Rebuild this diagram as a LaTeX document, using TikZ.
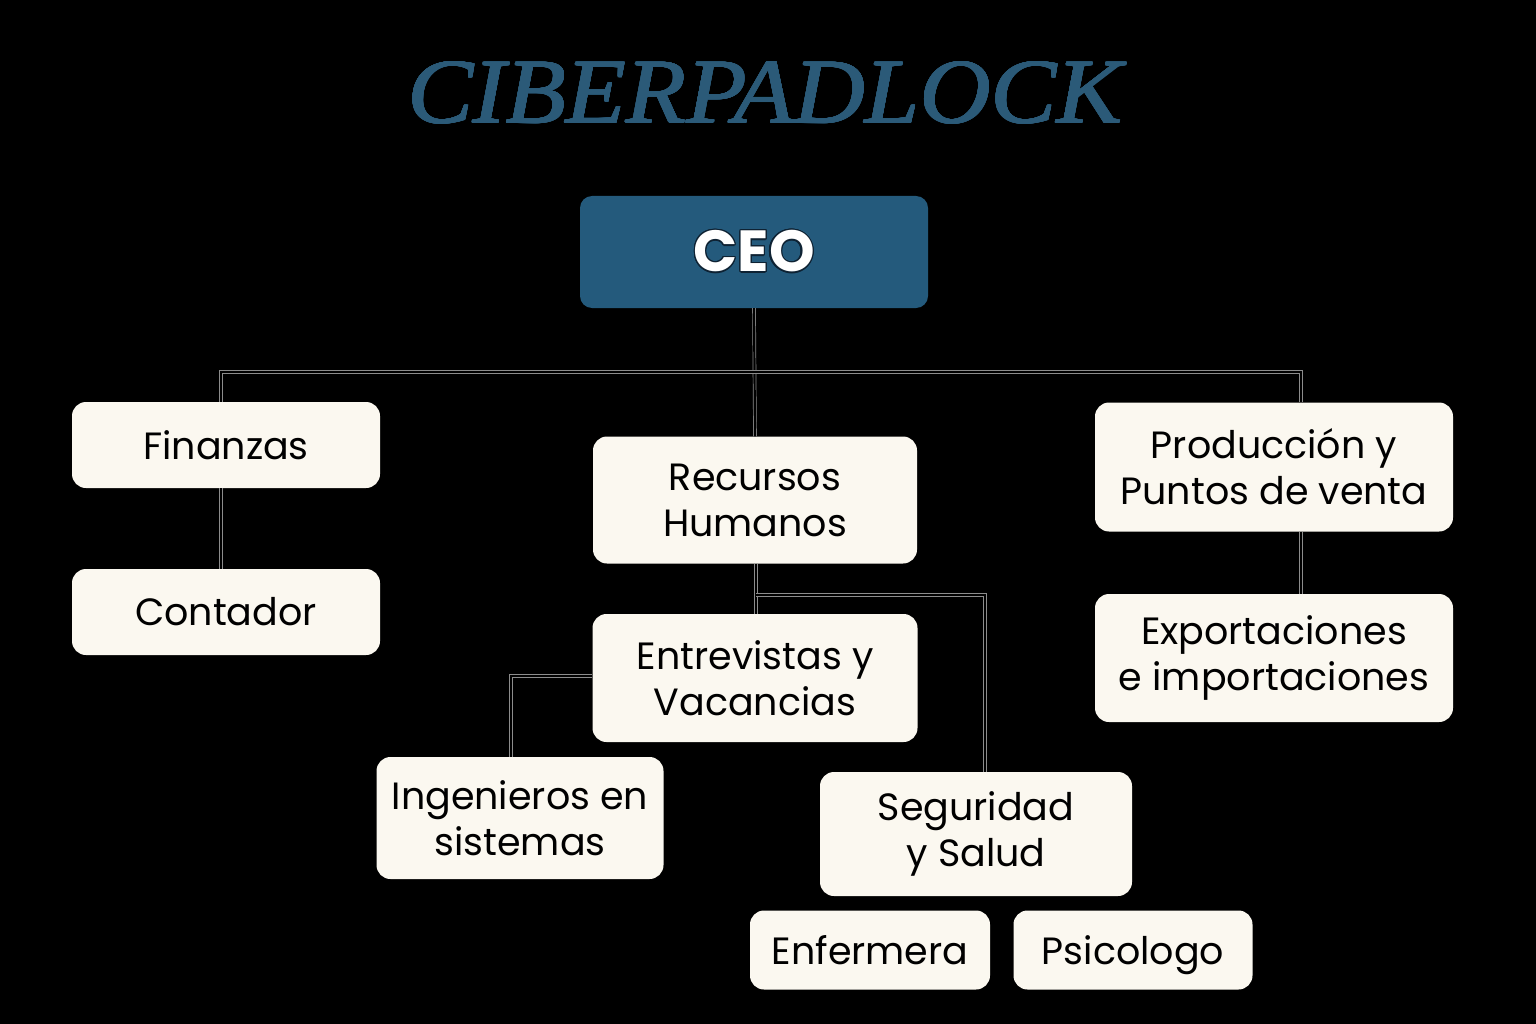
\documentclass[tikz,border=0pt]{standalone}
\usepackage{fontspec}
\usepackage{contour}
\newfontfamily\boxfont{Poppins}
\newfontfamily\ceofont{Poppins}
\newfontfamily\titlefont{Liberation Serif}
\usetikzlibrary{calc}
\definecolor{cream}{HTML}{FBF8F0}
\definecolor{ceoblue}{HTML}{245A7C}
\definecolor{titleblue}{HTML}{2B5A78}
\definecolor{outl}{HTML}{0E2233}
\definecolor{linegray}{HTML}{8C8C8C}
\newcommand{\nodepth}[1]{\raisebox{0pt}[\height][0pt]{#1}}
\tikzset{
  box/.style={draw=none, fill=cream, rounded corners=14pt, align=center, inner sep=0pt,
    font=\boxfont\fontsize{38}{46}\selectfont, text=black},
  conn/.style={draw=linegray, line width=0.7pt, double=black, double distance=2.2pt}
}
\begin{document}
\begin{tikzpicture}[x=1pt,y=-1pt]
\fill[black] (0,0) rectangle (1536,1024);
\useasboundingbox (0,0) rectangle (1536,1024);
\node[text=titleblue, font=\titlefont\itshape\fontsize{92}{92}\selectfont, xscale=1.07] (title) at (765,93) {\contourlength{0.45pt}\contour{titleblue}{CIBERPADLOCK}};
\node[fill=ceoblue, rounded corners=12pt, minimum width=348pt, minimum height=112pt, inner sep=0pt,
  text=white, font=\ceofont\bfseries\fontsize{58}{58}\selectfont] (ceo) at (754,252) {\contourlength{1.2pt}\contour{outl}{CEO}};
\node[box, minimum width=308pt, minimum height=86pt] (fin) at (226,445) {Finanzas};
\node[box, minimum width=308pt, minimum height=86pt] (cont) at (226,612) {Contador};
\node[box, minimum width=324pt, minimum height=127pt] (rh) at (755,500) {Recursos\\Humanos};
\node[box, minimum width=358pt, minimum height=129pt] (prod) at (1274,467) {Producción y\\Puntos de venta};
\node[box, minimum width=358pt, minimum height=128pt] (exp) at (1274,658) {Exportaciones\\e importaciones};
\node[box, minimum width=325pt, minimum height=128pt] (ent) at (755,678) {Entrevistas y\\Vacancias};
\node[box, minimum width=287pt, minimum height=122pt] (ing) at (520,818) {Ingenieros en\\sistemas};
\node[box, minimum width=312pt, minimum height=124pt] (seg) at (976,834) {Seguridad\\y Salud};
\node[box, minimum width=240pt, minimum height=79pt] (enf) at (870,950) {Enfermera};
\node[box, minimum width=239pt, minimum height=79pt] (psi) at (1133,950) {\nodepth{Psicologo}};
\coordinate (bus) at (755,372);
\coordinate (rhbus) at (756,595);
% connectors
\draw[conn] (ceo.south) -- (rh.north);
\draw[conn] ([xshift=-5pt]fin.north) |- (bus) -| ([xshift=27pt]prod.north);
\draw[conn] ([xshift=-5pt]fin.south) -- ([xshift=-5pt]cont.north);
\draw[conn] ([xshift=27pt]prod.south) -- ([xshift=27pt]exp.north);
\draw[conn] ([xshift=1pt]rh.south) -- ([xshift=1pt]ent.north);
\draw[conn] (rhbus) -| ([xshift=9pt]seg.north);
\draw[conn] ([yshift=2pt]ent.west) -| ([xshift=-9pt]ing.north);
\end{tikzpicture}
\end{document}
